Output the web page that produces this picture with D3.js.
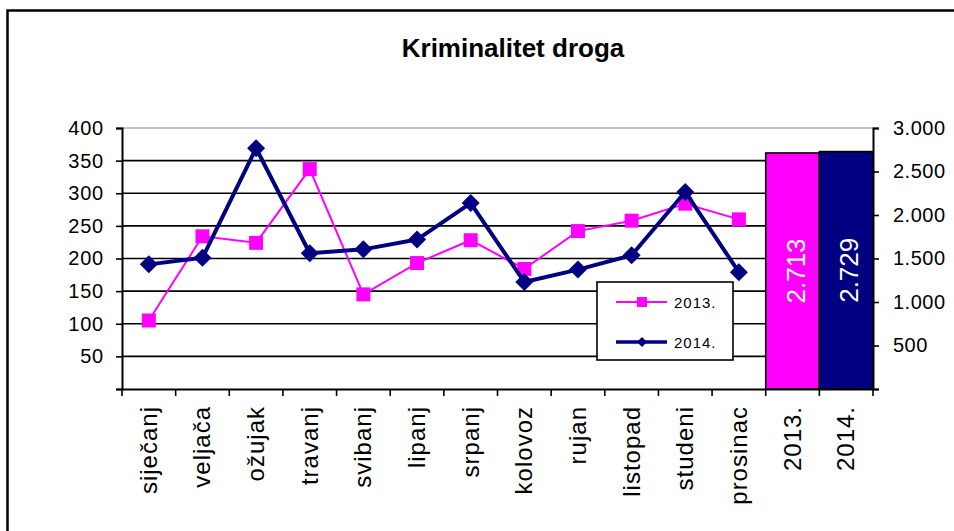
<!DOCTYPE html>
<html>
<head>
<meta charset="utf-8">
<script src="https://cdn.jsdelivr.net/npm/d3@7"></script>
<style>
  body { margin: 0; background: #fff; }
  svg { display: block; font-family: "Liberation Sans", Arial, sans-serif; }
</style>
</head>
<body>
<div id="chart"></div>
<script>
// data
var months = ["siječanj", "veljača", "ožujak", "travanj", "svibanj", "lipanj",
  "srpanj", "kolovoz", "rujan", "listopad", "studeni", "prosinac"];
var years = ["2013.", "2014."];
var values2013 = [105, 234, 224, 337, 145, 193, 228, 184, 242, 258, 284, 260];
var values2014 = [191, 201, 369, 208, 214, 229, 285, 164, 183, 205, 302, 179];
var totals = [2713, 2729];
var totalLabels = ["2.713", "2.729"];
var leftTicks = [50, 100, 150, 200, 250, 300, 350, 400];
var rightTicks = [500, 1000, 1500, 2000, 2500, 3000];

var colors = {
  '2013.': '#FF00FF',
  '2014.': '#000080'
};

var W = 954, H = 531;
var margin = { top: 128, right: 81, bottom: 142, left: 122 };
var width = W - margin.left - margin.right;
var height = H - margin.top - margin.bottom;

var svg = d3.select("#chart").append("svg")
  .attr("width", W)
  .attr("height", H);

// outer frame
svg.append("rect")
  .attr("x", 7.5).attr("y", 10.5)
  .attr("width", W + 20).attr("height", H + 20)
  .attr("fill", "none").attr("stroke", "#000").attr("stroke-width", 2.5);

svg.append("text")
  .attr("x", 513).attr("y", 57)
  .attr("text-anchor", "middle")
  .style("font-size", "26px").style("font-weight", "bold")
  .text("Kriminalitet droga");

var g = svg.append("g")
  .attr("transform", "translate(" + margin.left + "," + margin.top + ")");

var x = d3.scaleBand().domain(months.concat(years)).range([0, width]).padding(0);
var y = d3.scaleLinear().domain([0, 400]).range([height, 0]);
var y2 = d3.scaleLinear().domain([0, 3000]).range([height, 0]);

// gridlines
g.selectAll(".grid")
  .data(leftTicks)
  .enter().append("line")
  .attr("x1", 0).attr("x2", width)
  .attr("y1", function(d) { return y(d); })
  .attr("y2", function(d) { return y(d); })
  .attr("stroke", function(d) { return d == 400 ? "#888" : "#000"; })
  .attr("stroke-width", function(d) { return d == 400 ? 1.2 : 1.6; });

// total bars
g.selectAll(".bar")
  .data(totals)
  .enter().append("rect")
  .attr("x", function(d, i) { return x(years[i]); })
  .attr("width", x.bandwidth())
  .attr("y", function(d) { return y2(d); })
  .attr("height", function(d) { return height - y2(d); })
  .attr("fill", function(d, i) { return colors[years[i]]; })
  .attr("stroke", "#000").attr("stroke-width", 1.6);

g.selectAll(".barlabel")
  .data(totals)
  .enter().append("text")
  .attr("transform", function(d, i) {
    var cx = x(years[i]) + x.bandwidth() / 2;
    var cy = (y2(d) + height) / 2;
    return "translate(" + (cx + 12) + "," + cy + ") rotate(-90)";
  })
  .attr("text-anchor", "middle")
  .attr("fill", "#fff")
  .style("font-size", "26px")
  .text(function(d, i) { return totalLabels[i]; });

// axes
var xAxis = g.append("g")
  .attr("transform", "translate(0," + height + ")")
  .call(d3.axisBottom(x).tickSize(0).tickFormat(""));
xAxis.select(".domain").attr("stroke-width", 2);

g.selectAll(".xtick")
  .data(d3.range(months.length + years.length + 1))
  .enter().append("line")
  .attr("x1", function(d) { return d * x.step(); })
  .attr("x2", function(d) { return d * x.step(); })
  .attr("y1", height).attr("y2", height + 7)
  .attr("stroke", "#000").attr("stroke-width", 1.6);

g.selectAll(".xlabel")
  .data(months.concat(years))
  .enter().append("text")
  .attr("transform", function(d) {
    return "translate(" + (x(d) + x.bandwidth() / 2 + 8) + "," + (height + 17) + ") rotate(-90)";
  })
  .attr("text-anchor", "end")
  .style("font-size", "24px")
  .style("letter-spacing", "1px")
  .text(function(d) { return d; });

var yAxis = g.append("g")
  .call(d3.axisLeft(y).tickValues(leftTicks.concat([0])).tickSize(6).tickPadding(12)
    .tickFormat(function(d) { return d == 0 ? "" : d; }));
yAxis.select(".domain").attr("stroke-width", 2);
yAxis.selectAll("line").attr("stroke-width", 1.6);
yAxis.selectAll("text").style("font-size", "20px").attr("fill", "#000")
  .style("letter-spacing", "0.8px")
  .style("font-family", "Liberation Sans, Arial, sans-serif");

var fmt = d3.formatLocale({ decimal: ",", thousands: ".", grouping: [3], currency: ["", ""] }).format(",");
var y2Axis = g.append("g")
  .attr("transform", "translate(" + width + ",0)")
  .call(d3.axisRight(y2).tickValues(rightTicks.concat([0])).tickSize(6).tickPadding(14)
    .tickFormat(function(d) { return d == 0 ? "" : fmt(d); }));
y2Axis.select(".domain").attr("stroke-width", 2);
y2Axis.selectAll("line").attr("stroke-width", 1.6);
y2Axis.selectAll("text").style("font-size", "20px").attr("fill", "#000")
  .style("letter-spacing", "0.5px")
  .style("font-family", "Liberation Sans, Arial, sans-serif");

// lines
var line = d3.line()
  .x(function(d, i) { return x(months[i]) + x.bandwidth() / 2; })
  .y(function(d) { return y(d); });

g.append("path")
  .datum(values2013)
  .attr("d", line)
  .attr("fill", "none").attr("stroke", colors['2013.']).attr("stroke-width", 2);

g.selectAll(".sq")
  .data(values2013)
  .enter().append("rect")
  .attr("x", function(d, i) { return x(months[i]) + x.bandwidth() / 2 - 7; })
  .attr("y", function(d) { return y(d) - 7; })
  .attr("width", 14).attr("height", 14)
  .attr("fill", colors['2013.']);

g.append("path")
  .datum(values2014)
  .attr("d", line)
  .attr("fill", "none").attr("stroke", colors['2014.']).attr("stroke-width", 4)
  .attr("stroke-linejoin", "round");

var diamond = function(cx, cy, r) {
  return "M" + cx + "," + (cy - r) + "L" + (cx + r) + "," + cy + "L" + cx + "," + (cy + r) + "L" + (cx - r) + "," + cy + "Z";
};
g.selectAll(".dm")
  .data(values2014)
  .enter().append("path")
  .attr("d", function(d, i) { return diamond(x(months[i]) + x.bandwidth() / 2, y(d), 9); })
  .attr("fill", colors['2014.']);

// legend
var legend = svg.append("g").attr("transform", "translate(597,282)");
legend.append("rect")
  .attr("width", 136).attr("height", 78)
  .attr("fill", "#fff").attr("stroke", "#000").attr("stroke-width", 1.6);

legend.append("line")
  .attr("x1", 19).attr("x2", 70).attr("y1", 20).attr("y2", 20)
  .attr("stroke", colors['2013.']).attr("stroke-width", 2);
legend.append("rect")
  .attr("x", 40).attr("y", 15).attr("width", 10).attr("height", 10)
  .attr("fill", colors['2013.']);
legend.append("line")
  .attr("x1", 19).attr("x2", 70).attr("y1", 60).attr("y2", 60)
  .attr("stroke", colors['2014.']).attr("stroke-width", 3.5);
legend.append("path")
  .attr("d", diamond(45, 60, 5))
  .attr("fill", colors['2014.']);

legend.selectAll(".lt")
  .data(years)
  .enter().append("text")
  .attr("x", 77)
  .attr("y", function(d, i) { return 20 + i * 40 + 6; })
  .style("font-size", "15px")
  .style("letter-spacing", "1px")
  .text(function(d) { return d; });
</script>
</body>
</html>
